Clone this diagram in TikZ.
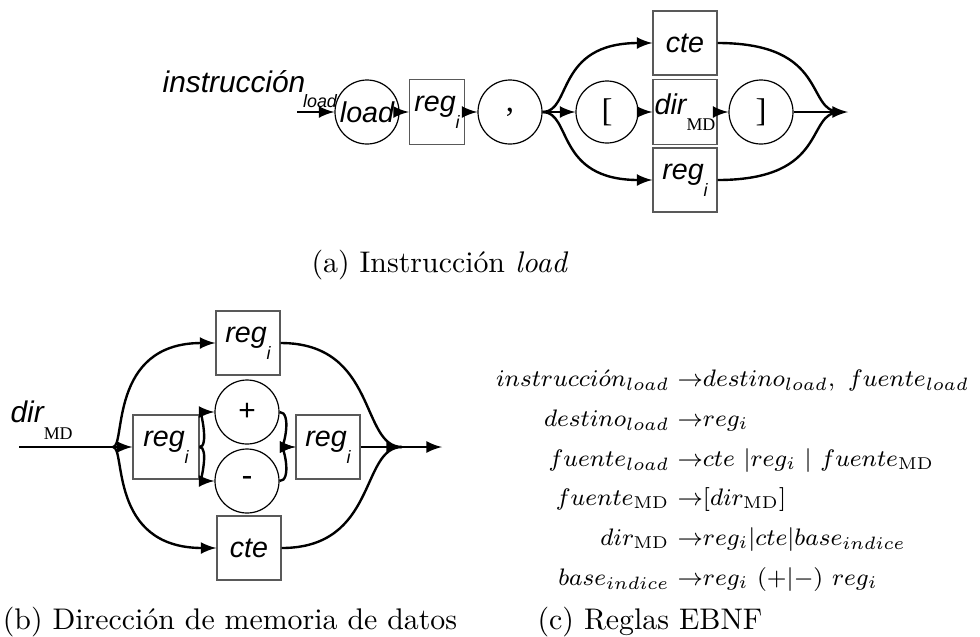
\documentclass[tikz,border=0pt]{standalone}
\usepackage{fontspec}
\newfontfamily\diagfont{Liberation Sans}
\newfontfamily\romfont{Liberation Serif}
\newcommand{\px}{0.335pt}
\newcommand{\low}[1]{\raisebox{-1.1ex}{\fontsize{6}{6}\selectfont #1}}
\newcommand{\md}{\low{\romfont\upshape MD}}
% one EBNF rule: name, baseline, left side, right side
\newcommand{\regla}[4]{
  \node[anchor=base east, inner sep=0pt, rule] (#1i) at (670,#2) {$#3$};
  \node[anchor=base west, inner sep=0pt, rule] (#1d) at (677,#2) {${\rightarrow}#4$};
}

\begin{document}
\begin{tikzpicture}[x=\px, y=-\px, >=latex,
  word/.style={font=\diagfont\itshape\fontsize{9.6}{12}\selectfont},
  box/.style={draw=black!65, line width=0.4pt, minimum width=64*\px,
    minimum height=64*\px, inner sep=0pt, word},
  ring/.style={draw, line width=0.4pt, circle, minimum size=64*\px, inner sep=0pt},
  link/.style={line width=0.8pt},
  rule/.style={font=\fontsize{8.2}{10}\selectfont}]
\useasboundingbox (0,0) rectangle (980,636);

% (a) load
\node[word, font=\diagfont\itshape\fontsize{10}{12}\selectfont] (titulo) at (234,82) {instrucción};
\node[word, font=\diagfont\itshape\fontsize{6}{6}\selectfont] (sub) at (320,101) {load};
\coordinate (in) at (297,112);
\node[ring, word] (load) at (367,112) {load};
\node[box, minimum width=55*\px, minimum height=65*\px] (reg1) at (437,112) {reg\low{i}};
\node[ring, font=\romfont\fontsize{11}{12}\selectfont] (coma) at (510,112) {,};
\node[ring, minimum size=62*\px, font=\romfont\fontsize{11}{12}\selectfont] (abre) at (607,112) {[};
\node[box, minimum height=65*\px] (dir) at (685,112) {dir\md};
\node[box] (cte) at (685,43) {cte};
\node[box] (reg2) at (685,180) {reg\low{i}};
\node[ring, font=\romfont\fontsize{11}{12}\selectfont] (cierra) at (761,112) {]};
\coordinate (junta) at (840,112);
\coordinate (salida) at (848,112);

\draw[link,->] (in) -- (load);
\draw[link,->] (load) -- (reg1);
\draw[link,->] (reg1) -- (coma);
\draw[link,->] (coma) -- (abre);
\draw[link,->] (abre) -- (dir);
\draw[link,->] (dir) -- (cierra);
\draw[link,->] (cierra) -- (salida);
% branches round the bracket
\draw[link,->] (coma.east) .. controls (572,112) and (555,43) .. (cte.west);
\draw[link,->] (coma.east) .. controls (572,112) and (555,180) .. (reg2.west);
\draw[link] (cte.east) .. controls (830,43) and (805,112) .. (junta);
\draw[link] (reg2.east) .. controls (830,180) and (805,112) .. (junta);

\node (capa) at (440,265) {(a) Instrucción \textit{load}};

% (b) dir_MD
\node[word, font=\diagfont\itshape\fontsize{10}{12}\selectfont, anchor=west, inner sep=0pt] (dirmd) at (10,420) {dir\md};
\coordinate (entrada) at (19,447);
\coordinate (reparto) at (113,447);
\node[box, minimum width=66*\px] (rA) at (166,447) {reg\low{i}};
\node[box] (rT) at (248,343) {reg\low{i}};
\node[ring, font=\diagfont\fontsize{10}{12}\selectfont] (mas) at (247,412) {+};
\node[ring, font=\diagfont\fontsize{11}{12}\selectfont] (menos) at (247,481) {-};
\node[box] (rB) at (328,447) {reg\low{i}};
\node[box] (cteB) at (249,548) {cte};
\coordinate (junta2) at (402,447);
\coordinate (fin) at (442,447);

\draw[link] (entrada) -- (reparto);
\draw[link,->] (reparto) -- (rA);
\draw[link,->] (reparto) .. controls (126,447) and (108,343) .. (rT.west);
\draw[link,->] (reparto) .. controls (126,447) and (108,548) .. (cteB.west);
\draw[link,->] (rA.east) .. controls (209,447) and (201,412) .. (mas.west);
\draw[link,->] (rA.east) .. controls (209,447) and (201,481) .. (menos.west);
\draw[link,->] (mas.east) .. controls (292,412) and (284,447) .. (rB.west);
\draw[link,->] (menos.east) .. controls (292,481) and (284,447) .. (rB.west);
\draw[link] (rT.east) .. controls (378,343) and (360,447) .. (junta2);
\draw[link] (cteB.east) .. controls (378,548) and (360,447) .. (junta2);
\draw[link,->] (rB) -- (junta2);
\draw[link,->] (junta2) -- (fin);

\node (capb) at (230,622) {(b) Dirección de memoria de datos};

% (c) EBNF
\regla{r1}{386}{instrucci\acute{o}n_{load}}{destino_{load},\ fuente_{load}}
\regla{r2}{426}{destino_{load}}{reg_i}
\regla{r3}{466}{fuente_{load}}{cte\ |reg_i\ |\ fuente_{\mathrm{MD}}}
\regla{r4}{505}{fuente_{\mathrm{MD}}}{[dir_{\mathrm{MD}}]}
\regla{r5}{545}{dir_{\mathrm{MD}}}{reg_i|cte|base_{indice}}
\regla{r6}{585}{base_{indice}}{reg_i\ (+|{-})\ reg_i}

\node (capc) at (650,622) {(c) Reglas EBNF};
\end{tikzpicture}
\end{document}
